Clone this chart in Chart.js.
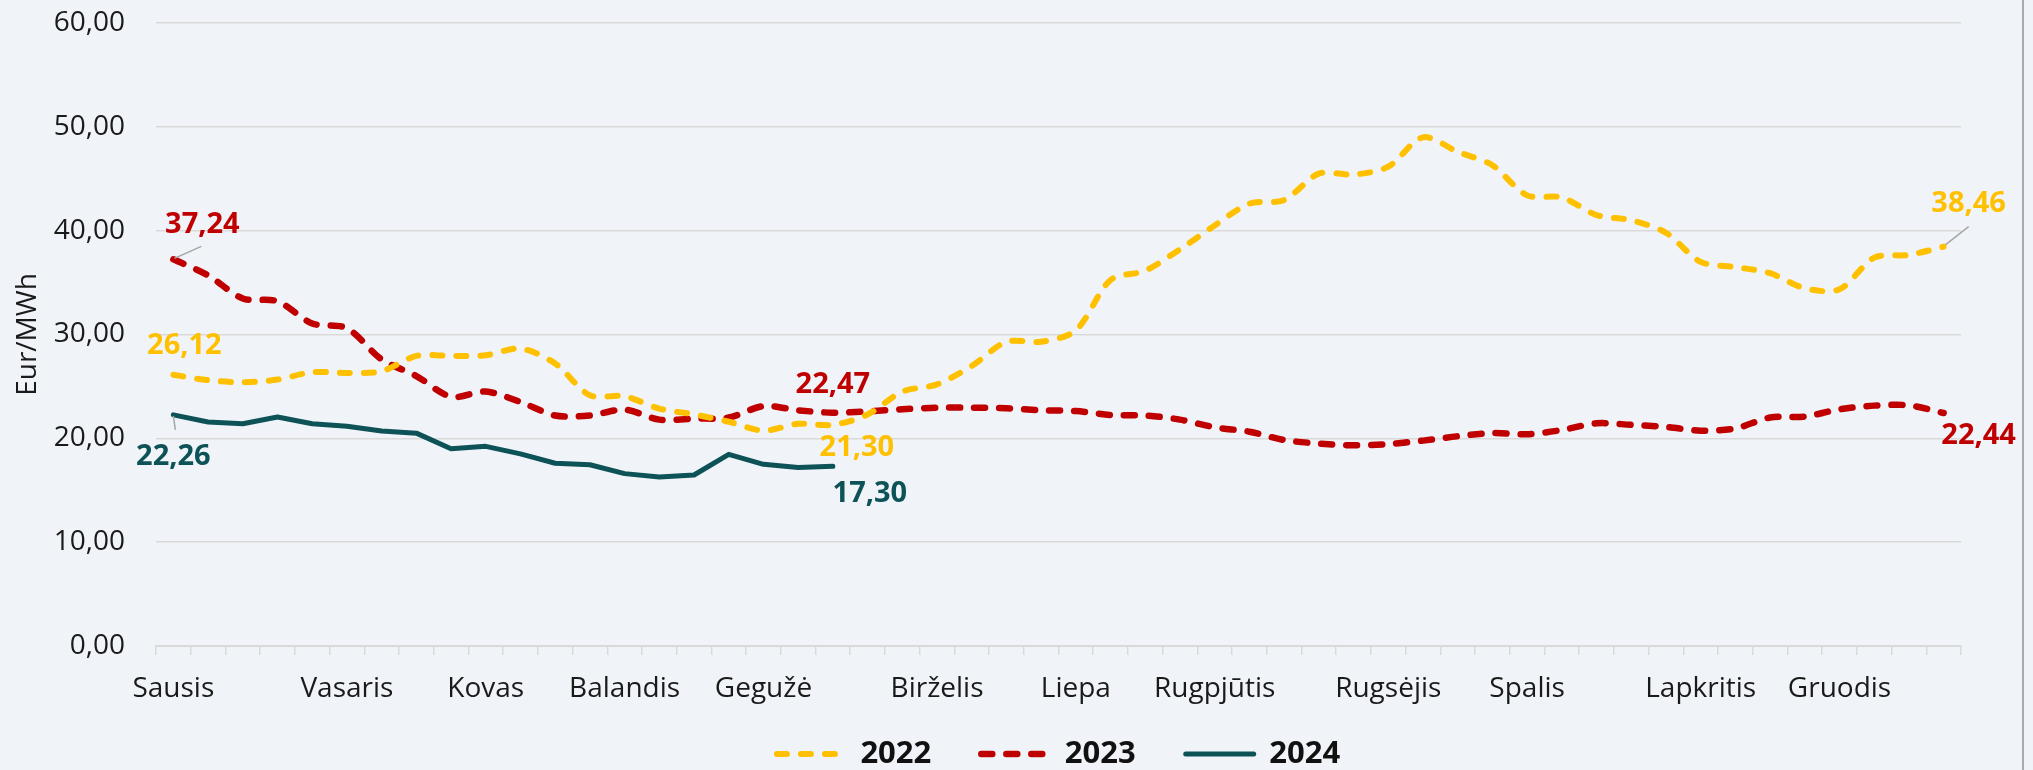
<!DOCTYPE html>
<html>
<head>
<meta charset="utf-8">
<script src="https://cdn.jsdelivr.net/npm/chart.js@4.4.1/dist/chart.umd.min.js"></script>
<style>
  html, body { margin: 0; padding: 0; background: #F0F4F8; }
  #wrap { position: relative; width: 2033px; height: 770px; }
  #edge { position: absolute; left: 2022px; top: 0; width: 2px; height: 770px; background: #A8ABAE; }
</style>
</head>
<body>
<div id="wrap">
  <canvas id="myChart" width="2033" height="770"></canvas>
  <div id="edge"></div>
</div>
<script>
// week labels: month name on the first week of each month
const monthLabels = ['Sausis','','','','','Vasaris','','','','Kovas','','','','Balandis','','','','Gegužė','','','','','Birželis','','','','Liepa','','','','Rugpjūtis','','','','','Rugsėjis','','','','Spalis','','','','','Lapkritis','','','','Gruodis','','',''];

const y2022 = [26.12, 25.6, 25.4, 25.66, 26.37, 26.3, 26.46, 27.94, 27.94, 28.0, 28.65, 27.2, 24.15, 24.05, 22.86,
  22.3, 21.6, 20.74, 21.4, 21.3, 22.3, 24.5, 25.2, 26.97, 29.3, 29.3, 30.4, 35.25, 36.15, 38.2,
  40.5, 42.6, 42.95, 45.5, 45.4, 46.16, 48.99, 47.6, 46.3, 43.4, 43.2, 41.5, 41.0, 39.8,
  37.0, 36.5, 35.9, 34.45, 34.35, 37.4, 37.66, 38.46];
const y2023 = [37.24, 35.7, 33.47, 33.2, 31.06, 30.6, 27.6, 26.0, 24.0, 24.5, 23.5, 22.2, 22.2, 22.77, 21.8,
  21.9, 22.0, 23.1, 22.7, 22.47, 22.6, 22.8, 22.95, 22.95, 22.9, 22.7, 22.63, 22.25, 22.2, 21.8,
  21.06, 20.64, 19.84, 19.5, 19.33, 19.45, 19.78, 20.2, 20.5, 20.4, 20.8, 21.45, 21.3, 21.1,
  20.74, 20.96, 22.0, 22.1, 22.8, 23.15, 23.18, 22.44];
const y2024 = [22.26, 21.58, 21.41, 22.06, 21.41, 21.16, 20.7, 20.5, 19.0, 19.23, 18.5, 17.6, 17.46, 16.6, 16.27,
  16.47, 18.46, 17.5, 17.2, 17.30];

const seriesNames = ['2022', '2023', '2024'];
const colors = ['#FFC000', '#C00000', '#0D5257'];

const fmt = v => v.toFixed(2).replace('.', ',');

// value labels: dataset, point, text offset, optional leader line
const valueLabels = [
  {ds: 1, i: 0, dx: 29, dy: -35, line: [1, -1, 28, -13]},
  {ds: 0, i: 0, dx: 11, dy: -29},
  {ds: 2, i: 0, dx: 0, dy: 42, line: [0, 1, 2, 15]},
  {ds: 1, i: 19, dx: 0, dy: -28},
  {ds: 0, i: 19, dx: 24, dy: 23},
  {ds: 2, i: 19, dx: 37, dy: 27},
  {ds: 0, i: 51, dx: 25, dy: -43, line: [2, -2, 25, -20]},
  {ds: 1, i: 51, dx: 35, dy: 23}
];

const labelPlugin = {
  id: 'valueLabels',
  afterDatasetsDraw(chart) {
    const ctx = chart.ctx;
    ctx.save();
    valueLabels.forEach(l => {
      const pt = chart.getDatasetMeta(l.ds).data[l.i];
      const val = chart.data.datasets[l.ds].data[l.i];
      if (l.line) {
        ctx.strokeStyle = '#A6A6A6';
        ctx.lineWidth = 1.5;
        ctx.setLineDash([]);
        ctx.beginPath();
        ctx.moveTo(pt.x + l.line[0], pt.y + l.line[1]);
        ctx.lineTo(pt.x + l.line[2], pt.y + l.line[3]);
        ctx.stroke();
      }
      ctx.fillStyle = colors[l.ds];
      ctx.font = 'bold 29px "Open Sans"';
      ctx.textAlign = 'center';
      ctx.textBaseline = 'middle';
      ctx.fillText(fmt(val), pt.x + l.dx, pt.y + l.dy);
    });
    ctx.restore();
  }
};

const ctx = document.getElementById('myChart').getContext('2d');
const myChart = new Chart(ctx, {
  type: 'line',
  data: {
    labels: monthLabels,
    datasets: [
      {label: seriesNames[0], data: y2022, borderColor: colors[0], backgroundColor: colors[0],
       borderWidth: 6, borderDash: [10, 14], borderCapStyle: 'round', tension: 0.3, pointRadius: 0},
      {label: seriesNames[1], data: y2023, borderColor: colors[1], backgroundColor: colors[1],
       borderWidth: 6.5, borderDash: [11, 14], borderCapStyle: 'round', tension: 0.3, pointRadius: 0},
      {label: seriesNames[2], data: y2024, borderColor: colors[2], backgroundColor: colors[2],
       borderWidth: 5, borderCapStyle: 'round', borderJoinStyle: 'round', tension: 0, pointRadius: 0}
    ]
  },
  options: {
    responsive: false,
    animation: false,
    devicePixelRatio: 1,
    layout: {padding: {top: 23, right: 72, left: 0, bottom: 0}},
    plugins: {
      tooltip: {enabled: false},
      legend: {
        position: 'bottom',
        fullSize: false,
        maxHeight: 81.5,
        labels: {
          usePointStyle: true,
          pointStyle: 'line',
          pointStyleWidth: 68,
          padding: 50,
          color: '#111111',
          font: {family: '"Open Sans"', size: 31, weight: 'bold'},
          // point style items lose the dash pattern, so copy it from the dataset
          generateLabels: chart => Chart.defaults.plugins.legend.labels.generateLabels(chart).map((item, i) => {
            item.lineDash = chart.data.datasets[i].borderDash || [];
            item.lineCap = 'round';
            return item;
          })
        }
      }
    },
    scales: {
      x: {
        offset: true,
        grid: {offset: true, drawOnChartArea: false, drawTicks: true, tickLength: 9, color: '#D9D9D9', lineWidth: 1.5},
        border: {color: '#D9D9D9', width: 2},
        ticks: {autoSkip: false, maxRotation: 0, padding: 17, color: '#1A1A1A', font: {family: '"Open Sans"', size: 28}},
        afterFit: s => {
          s.height = 42.5;
          s._computeLabelArea = () => null; // labels reach below the short scale box
        }
      },
      y: {
        min: 0, max: 60,
        ticks: {stepSize: 10, padding: 0, color: '#1A1A1A', font: {family: '"Open Sans"', size: 28},
                callback: v => fmt(v)},
        grid: {color: '#D9D9D9', lineWidth: 1.5, drawTicks: true, tickLength: 31, tickColor: 'rgba(0,0,0,0)'},
        border: {display: false},
        title: {display: true, text: 'Eur/MWh', color: '#1A1A1A', padding: {top: 11, bottom: 0},
                font: {family: '"Open Sans"', size: 28}},
        afterFit: s => { s.width = 156; }
      }
    }
  },
  plugins: [labelPlugin]
});
</script>
</body>
</html>
